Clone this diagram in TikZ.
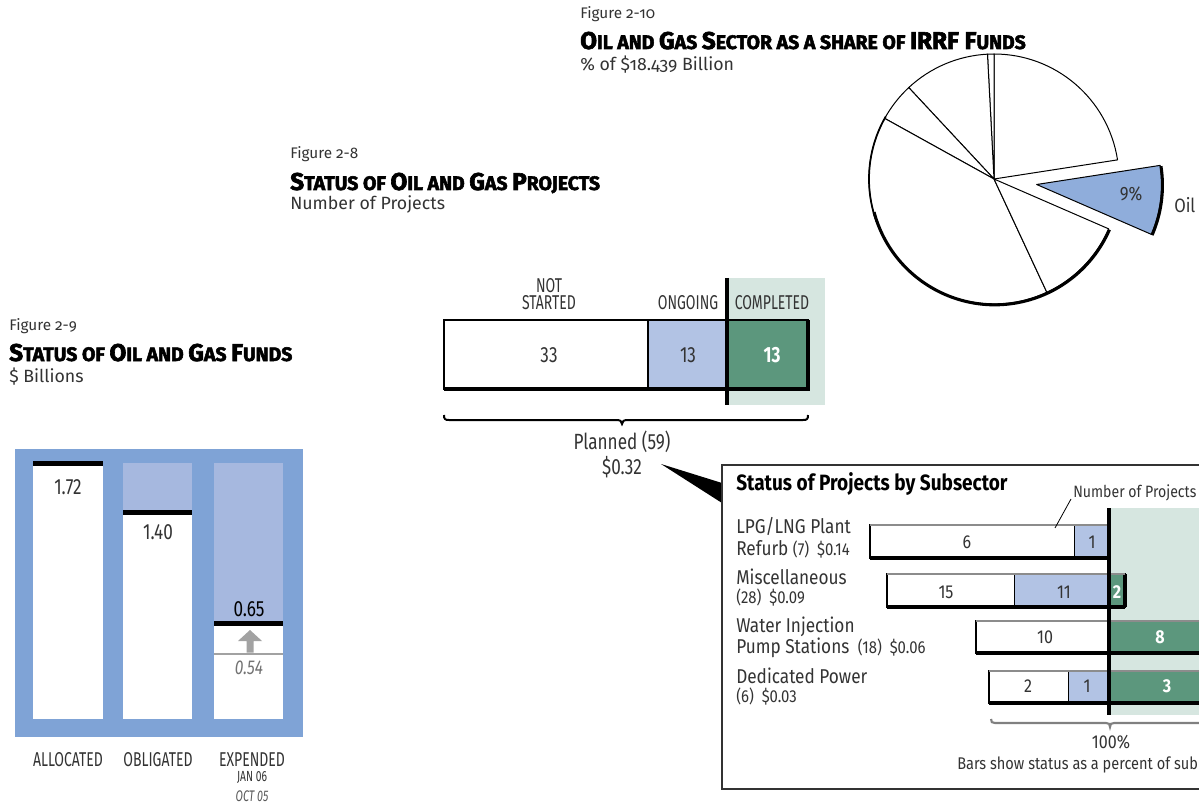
\documentclass[tikz,border=0pt]{standalone}
\usepackage{fontspec}
\usetikzlibrary{calc}
\setmainfont{Fira Sans}
\newfontfamily\osf{Fira Sans}[Numbers=OldStyle]
\newfontfamily\cond{Fira Sans}[FakeStretch=0.7]
\newfontfamily\narrow{Fira Sans}[FakeStretch=0.86]
\newfontfamily\numfont{Fira Sans}[FakeStretch=0.78]
\newfontfamily\heavy{Fira Sans}[BoldFeatures={FakeBold=2.6}]

\definecolor{piefill}{HTML}{8FADDB}
\definecolor{ongoing}{HTML}{B2C3E4}
\definecolor{done}{HTML}{5C977D}
\definecolor{donebg}{HTML}{D6E6E0}
\definecolor{fundbg}{HTML}{7FA3D6}
\definecolor{fundhi}{HTML}{A6B8DF}
\definecolor{ink}{HTML}{333333}
\definecolor{arrowgray}{HTML}{A2A2A2}

% large initial capitals inside the small-caps titles
\newcommand\initcap[1]{{\fontsize{18.2}{19}\selectfont #1}}

\tikzset{
  figlab/.style={anchor=base west, inner sep=0pt, font=\osf\fontsize{11.5}{13}\selectfont, text=ink},
  figtitle/.style={anchor=base west, inner sep=0pt, font=\heavy\bfseries\fontsize{14.6}{16}\selectfont, text=black},
  figsub/.style={anchor=base west, inner sep=0pt, font=\osf\fontsize{13.3}{15}\selectfont, text=ink},
  collab/.style={anchor=base, inner sep=0pt, font=\cond\fontsize{15}{17}\selectfont, text=ink},
  smalllab/.style={anchor=base, inner sep=0pt, font=\cond\fontsize{11}{12}\selectfont, text=ink},
  bignum/.style={inner sep=0pt, font=\numfont\fontsize{16.5}{18}\selectfont, text=ink},
  rowlab/.style={anchor=base west, inner sep=0pt, font=\narrow\fontsize{15}{17}\selectfont, text=ink},
  rownum/.style={inner sep=0pt, font=\narrow\fontsize{14}{16}\selectfont, text=ink},
  rownumw/.style={inner sep=0pt, font=\narrow\bfseries\fontsize{14}{16}\selectfont, text=white},
  slice/.style={fill=white, draw=black, line width=0.75pt, line join=round},
  shade/.style={draw=black, line width=2.3pt},
  cell/.style={draw=black, line width=0.9pt},
}

\begin{document}
\begin{tikzpicture}[x=0.75pt, y=-0.75pt]
\path[use as bounding box] (0,0) rectangle (1199,809);
\clip (0,0) rectangle (1199,809);

% ---------------- Figure 2-10: pie chart ----------------
\node[figlab] (f10lab) at (580,19) {Figure 2-10};
\node[figtitle] (f10title) at (580,49) {\initcap{O}IL AND \initcap{G}AS \initcap{S}ECTOR AS A SHARE OF \initcap{IRRF F}UNDS};
\node[figsub] (f10sub) at (580,71) {\% of \$18.439 Billion};

\coordinate (pc) at (994,179);
\foreach \a/\b in {8.8/90, 90/93, 93/133, 133/151, 151/295, 295/336.5}{
  \path[slice] (pc) -- ++(-\a:125) arc[start angle=-\a, end angle=-\b, radius=125] -- cycle;
}
\draw[line width=1.3pt] (pc) ++(-150:125) arc[start angle=-150, end angle=-200, radius=125];
\draw[shade] ([shift={(0.8,0.8)}]pc) ++(-195:125) arc[start angle=-195, end angle=-336.5, radius=125];

% the exploded oil and gas slice
\coordinate (oc) at ($(pc)+(7.35:43)$);
\path[slice, fill=piefill] (oc) -- ++(23.5:125) arc[start angle=23.5, end angle=-8.8, radius=125] -- cycle;
\draw[shade] ([shift={(0.8,0.8)}]oc) ++(23.5:125) arc[start angle=23.5, end angle=-8.8, radius=125];
\node[bignum, font=\narrow\fontsize{14.5}{16}\selectfont] (pct) at (1131,194) {9\%};
\node[bignum, anchor=west, font=\narrow\fontsize{14.5}{16}\selectfont] (oil) at (1174,205) {Oil};

% ---------------- Figure 2-8: project status bar ----------------
\node[figlab] (f8lab) at (290,159) {Figure 2-8};
\node[figtitle] (f8title) at (290,190) {\initcap{S}TATUS OF \initcap{O}IL AND \initcap{G}AS \initcap{P}ROJECTS};
\node[figsub] (f8sub) at (290,210) {Number of Projects};

\fill[donebg] (727,278) rectangle (825,405);
\path[cell, fill=white] (444,320) rectangle (648,389);
\path[cell, fill=ongoing] (648,320) rectangle (727,389);
\path[cell, fill=done] (727,320) rectangle (808,389);
\draw[line width=1.4pt] (444,389) -- (444,320) -- (808,320);
\draw[shade] (444,389) -- (808,389) -- (808,320);
\draw[shade] (727,278) -- (727,405);

\node[collab] (ns1) at (549,292) {NOT};
\node[collab] (ns2) at (549,310) {STARTED};
\node[collab] (og) at (688,310) {ONGOING};
\node[collab] (cp) at (772,310) {COMPLETED};
\node[bignum] (n33) at (549,355) {33};
\node[bignum] (n13a) at (688,355) {13};
\node[bignum, font=\numfont\bfseries\fontsize{16.5}{18}\selectfont, text=white] (n13b) at (772,355) {13};

\draw[line width=1.5pt] (444,415) .. controls (444,419) and (445,420) .. (449,420) -- (616,420)
  .. controls (620,420) and (622,421) .. (622,424) .. controls (622,421) and (624,420) .. (628,420)
  -- (803,420) .. controls (807,420) and (808,419) .. (808,415);
\node[bignum] (planned) at (622,442) {Planned (59)};
\node[bignum] (cost) at (622,467) {\$0.32};

% callout wedge to the subsector panel
\fill (661,464) -- (722,483) -- (722,503) -- cycle;

% ---------------- Figure 2-9: funds ----------------
\node[figlab] (f9lab) at (9,330) {Figure 2-9};
\node[figtitle] (f9title) at (9,361) {\initcap{S}TATUS OF \initcap{O}IL AND \initcap{G}AS \initcap{F}UNDS};
\node[figsub] (f9sub) at (9,382) {\$ Billions};

\fill[fundbg] (15,449) rectangle (303,737);
% allocated
\fill[white] (33,461) rectangle (103,719);
\fill[black] (33,461) rectangle (103,466);
% obligated
\fill[fundhi] (123,463) rectangle (192,510);
\fill[white] (123,514.5) rectangle (192,719);
\fill[black] (123,510) rectangle (192,514.5);
% expended
\fill[fundhi] (214,463) rectangle (283,621);
\fill[white] (214,625.5) rectangle (283,719);
\fill[black] (214,621) rectangle (283,625.5);
\fill[arrowgray] (214,652.5) rectangle (283,655);
\fill[arrowgray] (246.5,652.5) -- (246.5,641) -- (238,641) -- (250,630) -- (262,641) -- (253.5,641) -- (253.5,652.5) -- cycle;

\node[bignum] (v172) at (68,487) {1.72};
\node[bignum] (v140) at (158,532) {1.40};
\node[bignum, text=black] (v065) at (249,609) {0.65};
\node[bignum, text=black!55, font=\numfont\itshape\fontsize{15}{17}\selectfont] (v054) at (249,668) {0.54};

\node[collab] (alloc) at (68,766) {ALLOCATED};
\node[collab] (oblig) at (158,766) {OBLIGATED};
\node[collab] (exp) at (252,766) {EXPENDED};
\node[smalllab] (jan) at (252,781) {JAN 06};
\node[smalllab, font=\cond\itshape\fontsize{11.5}{12}\selectfont, text=black!65] (oct) at (252,801) {OCT 05};

% ---------------- subsector panel ----------------
\draw[draw=ink, line width=1.2pt] (722,465) rectangle (1215,789);
\fill[donebg] (1109,508) rectangle (1215,715);

\node[rowlab, font=\narrow\bfseries\fontsize{16.6}{18}\selectfont, text=black] (ptitle) at (736,490) {Status of Projects by Subsector};
\node[rowlab, font=\narrow\fontsize{12.3}{15}\selectfont] (nproj) at (1073,497) {Number of Projects};

% row 1
\path[cell, fill=white] (870,525) rectangle (1074.5,558);
\path[cell, fill=ongoing] (1074.5,525) rectangle (1109,558);
% row 2
\path[cell, fill=white] (887,574) rectangle (1014.5,607);
\path[cell, fill=ongoing] (1014.5,574) rectangle (1109,607);
\path[cell, fill=done] (1109,574) rectangle (1125,607);
\draw[shade] (1125,574) -- (1125,607);
% row 3
\path[cell, fill=white] (976,621) rectangle (1109,653);
\path[cell, fill=done] (1109,621) rectangle (1215,653);
% row 4
\path[cell, fill=white] (989,671) rectangle (1068.5,703);
\path[cell, fill=ongoing] (1068.5,671) rectangle (1109,703);
\path[cell, fill=done] (1109,671) rectangle (1215,703);
% top edges light, bottom edges heavy
\foreach \l/\t/\b/\r in {870/525/558/1109, 887/574/607/1125, 976/621/653/1215, 989/671/703/1215}{
  \draw[black!45, line width=0.9pt] (\l,\t) -- (\r,\t);
  \draw[shade] (\l,\b) -- (\r,\b);
}
\draw[shade] (1109,508) -- (1109,715);

\draw[line width=0.6pt] (1071,499) -- (1055,528);

\node[rownum] (r1a) at (967,542) {6};
\node[rownum] (r1b) at (1092,542) {1};
\node[rownum] (r2a) at (946,592) {15};
\node[rownum] (r2b) at (1064,592) {11};
\node[rownumw] (r2c) at (1117,592) {2};
\node[rownum] (r3a) at (1045,637) {10};
\node[rownumw] (r3b) at (1160,637) {8};
\node[rownum] (r4a) at (1028,686) {2};
\node[rownum] (r4b) at (1087,686) {1};
\node[rownumw] (r4c) at (1167,686) {3};

\node[rowlab] (l1a) at (736,533) {LPG/LNG Plant};
\node[rowlab] (l1b) at (736,555) {Refurb {\fontsize{13}{15}\selectfont (7)\ \ \$0.14}};
\node[rowlab] (l2a) at (736,584) {Miscellaneous};
\node[rowlab, font=\narrow\fontsize{13}{15}\selectfont] (l2b) at (736,603) {(28)\ \ \$0.09};
\node[rowlab] (l3a) at (736,632) {Water Injection};
\node[rowlab] (l3b) at (736,653) {Pump Stations {\fontsize{13}{15}\selectfont\ (18)\ \ \$0.06}};
\node[rowlab] (l4a) at (736,683) {Dedicated Power};
\node[rowlab, font=\narrow\fontsize{13}{15}\selectfont] (l4b) at (736,702) {(6)\ \ \$0.03};

\draw[black!50, line width=1.6pt] (991,719) .. controls (991,722) and (992,723) .. (995,723) -- (1106,723)
  .. controls (1109,723) and (1110,724) .. (1110,727) .. controls (1110,724) and (1111,723) .. (1114,723)
  -- (1225,723) .. controls (1228,723) and (1229,722) .. (1229,719);
\node[rownum] (hund) at (1111,742) {100\%};
\node[rowlab, font=\narrow\fontsize{12.7}{15}\selectfont] (note) at (957,769) {Bars show status as a percent of sub};
\end{tikzpicture}
\end{document}
